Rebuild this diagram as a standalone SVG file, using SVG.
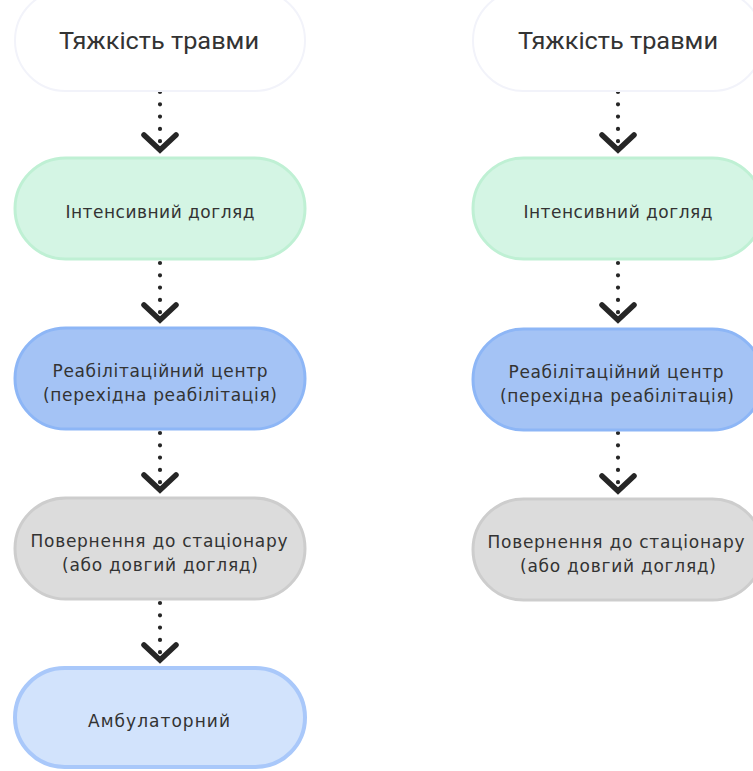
<svg xmlns="http://www.w3.org/2000/svg" width="753" height="771" viewBox="0 0 753 771">
<defs>
<style>
.n1{fill:#ffffff;stroke:#f2f3fa;stroke-width:2}
.n2{fill:#d4f5e4;stroke:#bff0d4;stroke-width:3}
.n3{fill:#a4c3f5;stroke:#8db6f6;stroke-width:3}
.n4{fill:#dcdcdc;stroke:#cdcdcd;stroke-width:3}
.n5{fill:#d2e3fc;stroke:#a9c8fa;stroke-width:4}
.title{font-family:Roboto,"Liberation Sans",sans-serif;font-size:24px;fill:#333333;text-anchor:middle}
.lbl{font-family:"DejaVu Sans","Liberation Sans",sans-serif;font-size:17px;fill:#333333;text-anchor:middle}
.edge{fill:none;stroke:#262626;stroke-width:4.2;stroke-linecap:round;stroke-dasharray:0 12.3}
</style>
<marker id="chev" markerUnits="userSpaceOnUse" markerWidth="44" markerHeight="44" viewBox="-22 -22 44 44" refX="0" refY="0" orient="auto">
<path d="M-15,-16 L0,0 L-15,16" fill="none" stroke="#262626" stroke-width="5.5" stroke-linejoin="miter" stroke-linecap="round"/>
</marker>
</defs>
<rect width="753" height="771" fill="#ffffff"/>

<g id="connectors">
<path class="edge" d="M160,92 V150" marker-end="url(#chev)"/>
<path class="edge" d="M160,263 V320" marker-end="url(#chev)"/>
<path class="edge" d="M160,433 V490" marker-end="url(#chev)"/>
<path class="edge" d="M160,603 V660" marker-end="url(#chev)"/>
<path class="edge" d="M618,92 V150" marker-end="url(#chev)"/>
<path class="edge" d="M618,263 V320" marker-end="url(#chev)"/>
<path class="edge" d="M618,433 V491" marker-end="url(#chev)"/>
</g>

<g id="L1">
<rect class="n1" x="15" y="-10" width="290" height="101" rx="50.5"/>
<text class="title" x="159" y="49" textLength="200" lengthAdjust="spacingAndGlyphs">Тяжкість травми</text>
</g>
<g id="L2">
<rect class="n2" x="15" y="158" width="290" height="101" rx="50.5"/>
<text class="lbl" x="160" y="218" textLength="189" lengthAdjust="spacing">Інтенсивний догляд</text>
</g>
<g id="L3">
<rect class="n3" x="15" y="328" width="290" height="101" rx="50.5"/>
<text class="lbl" x="160" y="377" textLength="215" lengthAdjust="spacing">Реабілітаційний центр</text>
<text class="lbl" x="160" y="401" textLength="234" lengthAdjust="spacing">(перехідна реабілітація)</text>
</g>
<g id="L4">
<rect class="n4" x="15" y="498" width="290" height="101" rx="50.5"/>
<text class="lbl" x="159" y="547" textLength="257" lengthAdjust="spacing">Повернення до стаціонару</text>
<text class="lbl" x="160" y="571" textLength="196" lengthAdjust="spacing">(або довгий догляд)</text>
</g>
<g id="L5">
<rect class="n5" x="15" y="668" width="290" height="99" rx="49.5"/>
<text class="lbl" x="159" y="727" textLength="142" lengthAdjust="spacing">Амбулаторний</text>
</g>

<g id="R1">
<rect class="n1" x="473" y="-10" width="290" height="101" rx="50.5"/>
<text class="title" x="618" y="49" textLength="200" lengthAdjust="spacingAndGlyphs">Тяжкість травми</text>
</g>
<g id="R2">
<rect class="n2" x="473" y="158" width="290" height="101" rx="50.5"/>
<text class="lbl" x="618" y="218" textLength="189" lengthAdjust="spacing">Інтенсивний догляд</text>
</g>
<g id="R3">
<rect class="n3" x="473" y="329" width="290" height="101" rx="50.5"/>
<text class="lbl" x="616" y="378" textLength="215" lengthAdjust="spacing">Реабілітаційний центр</text>
<text class="lbl" x="617" y="402" textLength="234" lengthAdjust="spacing">(перехідна реабілітація)</text>
</g>
<g id="R4">
<rect class="n4" x="473" y="499" width="290" height="101" rx="50.5"/>
<text class="lbl" x="616" y="548" textLength="257" lengthAdjust="spacing">Повернення до стаціонару</text>
<text class="lbl" x="618" y="572" textLength="196" lengthAdjust="spacing">(або довгий догляд)</text>
</g>
</svg>
